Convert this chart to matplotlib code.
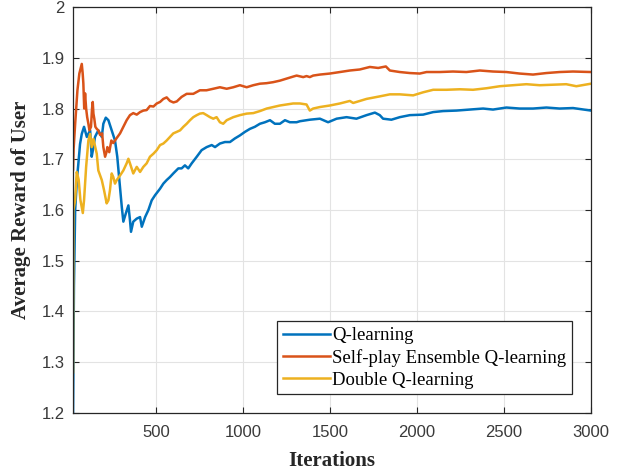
import matplotlib
matplotlib.use("Agg")
import matplotlib.pyplot as plt

# Q-learning (blue)
q_it = [23, 28, 35, 45, 53, 63, 73, 86, 102, 121, 130, 140, 149, 159, 168, 188,
        197, 211, 226, 245, 264, 277, 289, 303, 312, 326, 341, 350, 356, 369, 389,
        408, 418, 437, 456, 475, 494, 523, 542, 561, 580, 599, 628, 647, 666, 685,
        705, 734, 762, 791, 820, 839, 867, 896, 925, 953, 982, 1011, 1040, 1068,
        1097, 1126, 1155, 1183, 1212, 1241, 1269, 1308, 1327, 1384, 1442, 1489,
        1538, 1595, 1652, 1710, 1758, 1786, 1805, 1853, 1901, 1959, 2035, 2093,
        2150, 2227, 2303, 2380, 2437, 2514, 2590, 2667, 2744, 2820, 2897, 3000]
q_val = [1.200, 1.450, 1.600, 1.660, 1.690, 1.730, 1.750, 1.764, 1.744, 1.757,
         1.705, 1.724, 1.744, 1.751, 1.757, 1.744, 1.770, 1.782, 1.777, 1.757,
         1.737, 1.705, 1.659, 1.606, 1.577, 1.593, 1.609, 1.580, 1.557, 1.577,
         1.583, 1.586, 1.567, 1.586, 1.600, 1.619, 1.629, 1.642, 1.652, 1.659,
         1.665, 1.672, 1.682, 1.682, 1.688, 1.682, 1.692, 1.705, 1.718, 1.724,
         1.728, 1.724, 1.731, 1.734, 1.734, 1.741, 1.747, 1.754, 1.760, 1.764,
         1.770, 1.773, 1.777, 1.770, 1.770, 1.777, 1.773, 1.773, 1.775, 1.778,
         1.780, 1.773, 1.780, 1.783, 1.780, 1.787, 1.792, 1.787, 1.780, 1.778,
         1.783, 1.787, 1.788, 1.793, 1.795, 1.796, 1.798, 1.800, 1.798, 1.802,
         1.800, 1.800, 1.802, 1.800, 1.801, 1.796]

# Self-play Ensemble Q-learning (red)
s_it = [23, 26, 35, 48, 59, 73, 78, 82, 87, 92, 98, 104, 111, 117, 126, 132,
        136, 140, 145, 151, 159, 168, 178, 190, 197, 207, 216, 220, 231, 243,
        254, 274, 293, 312, 331, 350, 369, 389, 408, 427, 446, 465, 485, 504,
        523, 542, 561, 580, 600, 619, 647, 676, 714, 752, 790, 829, 867, 906,
        944, 982, 1021, 1059, 1097, 1135, 1173, 1212, 1250, 1288, 1308, 1346,
        1365, 1384, 1403, 1442, 1499, 1557, 1614, 1671, 1729, 1777, 1821, 1844,
        1901, 1959, 2016, 2055, 2131, 2207, 2284, 2361, 2437, 2514, 2590, 2667,
        2744, 2820, 2897, 3000]
s_val = [1.680, 1.720, 1.770, 1.836, 1.869, 1.888, 1.870, 1.850, 1.800, 1.830,
         1.800, 1.783, 1.770, 1.757, 1.764, 1.800, 1.813, 1.790, 1.780, 1.764,
         1.760, 1.757, 1.748, 1.751, 1.724, 1.705, 1.715, 1.724, 1.714, 1.737,
         1.732, 1.742, 1.751, 1.764, 1.777, 1.787, 1.791, 1.788, 1.793, 1.796,
         1.797, 1.805, 1.804, 1.810, 1.813, 1.819, 1.822, 1.815, 1.812, 1.814,
         1.823, 1.829, 1.829, 1.836, 1.836, 1.839, 1.842, 1.839, 1.842, 1.846,
         1.842, 1.846, 1.849, 1.850, 1.852, 1.855, 1.859, 1.863, 1.865, 1.862,
         1.864, 1.862, 1.865, 1.867, 1.869, 1.872, 1.875, 1.877, 1.882, 1.880,
         1.883, 1.875, 1.872, 1.870, 1.869, 1.872, 1.872, 1.873, 1.872, 1.875,
         1.873, 1.872, 1.869, 1.867, 1.870, 1.872, 1.873, 1.872]

# Double Q-learning (yellow)
d_it = [23, 25, 35, 44, 55, 65, 79, 86, 98, 111, 121, 130, 140, 159, 168, 188,
        201, 216, 226, 235, 245, 254, 264, 274, 293, 312, 331, 341, 350, 369,
        389, 408, 427, 446, 465, 485, 504, 523, 542, 561, 580, 599, 619, 638,
        657, 676, 695, 714, 734, 752, 771, 791, 810, 829, 848, 867, 886, 906,
        944, 982, 1021, 1059, 1097, 1136, 1174, 1212, 1250, 1288, 1327, 1365,
        1384, 1403, 1442, 1499, 1557, 1614, 1633, 1710, 1786, 1844, 1901, 1978,
        2035, 2093, 2169, 2246, 2322, 2399, 2476, 2552, 2629, 2705, 2782, 2858,
        2916, 3000]
d_val = [1.280, 1.600, 1.620, 1.675, 1.660, 1.620, 1.594, 1.619, 1.685, 1.737,
         1.750, 1.724, 1.740, 1.711, 1.678, 1.659, 1.639, 1.613, 1.619, 1.639,
         1.672, 1.665, 1.652, 1.659, 1.668, 1.678, 1.692, 1.701, 1.692, 1.672,
         1.685, 1.675, 1.685, 1.692, 1.705, 1.711, 1.718, 1.728, 1.731, 1.737,
         1.744, 1.751, 1.754, 1.757, 1.764, 1.770, 1.777, 1.783, 1.787, 1.790,
         1.791, 1.787, 1.783, 1.780, 1.783, 1.773, 1.770, 1.777, 1.783, 1.787,
         1.790, 1.791, 1.795, 1.800, 1.803, 1.806, 1.808, 1.810, 1.810, 1.808,
         1.796, 1.800, 1.803, 1.806, 1.810, 1.815, 1.811, 1.819, 1.824, 1.828,
         1.828, 1.826, 1.832, 1.837, 1.837, 1.838, 1.837, 1.840, 1.844, 1.846,
         1.848, 1.846, 1.847, 1.848, 1.844, 1.849]

x_ticks = [500, 1000, 1500, 2000, 2500, 3000]
y_ticks = [1.2, 1.3, 1.4, 1.5, 1.6, 1.7, 1.8, 1.9, 2.0]
y_tick_labels = ["1.2", "1.3", "1.4", "1.5", "1.6", "1.7", "1.8", "1.9", "2"]

C_BLUE = "#0072BD"
C_RED = "#D95319"
C_YELLOW = "#EDB120"
C_AXIS = "#262626"
C_TICKTXT = "#3A3A3A"

fig = plt.figure(figsize=(6.3, 4.74), dpi=100)
ax = fig.add_axes([0.116, 0.129, 0.822, 0.856])

ax.plot(q_it, q_val, color=C_BLUE, lw=1.8, label="Q-learning")
ax.plot(s_it, s_val, color=C_RED, lw=1.8, label="Self-play Ensemble Q-learning")
ax.plot(d_it, d_val, color=C_YELLOW, lw=1.8, label="Double Q-learning")

ax.set_xlim(23, 3000)
ax.set_ylim(1.2, 2.0)
ax.set_xticks(x_ticks)
ax.set_yticks(y_ticks)
ax.set_yticklabels(y_tick_labels)
ax.grid(True, color="#E3E3E3", lw=0.8)
ax.set_axisbelow(True)

ax.tick_params(direction="in", top=True, right=True, length=4, width=0.8,
               colors=C_AXIS, labelcolor=C_TICKTXT, labelsize=12)
ax.tick_params(axis="x", pad=9)
ax.tick_params(axis="y", pad=6)
for lab in ax.get_xticklabels() + ax.get_yticklabels():
    lab.set_family("Liberation Sans")
for sp in ax.spines.values():
    sp.set_color(C_AXIS)
    sp.set_linewidth(0.9)

ax.set_xlabel("Iterations", family="Liberation Serif", fontweight="bold",
              fontsize=15, color=C_AXIS, labelpad=8)
ax.set_ylabel("Average Reward of User", family="Liberation Serif",
              fontweight="bold", fontsize=15, color=C_AXIS, labelpad=8)

leg = ax.legend(loc="lower left", bbox_to_anchor=(0.394, 0.046),
                borderaxespad=0, fancybox=False, framealpha=1,
                edgecolor=C_AXIS, handlelength=2.5, handletextpad=0.15,
                labelspacing=0.25, borderpad=0.3,
                prop={"family": "Liberation Serif", "size": 13.5})
leg.get_frame().set_linewidth(0.9)

fig.savefig("out.png", dpi=100)
